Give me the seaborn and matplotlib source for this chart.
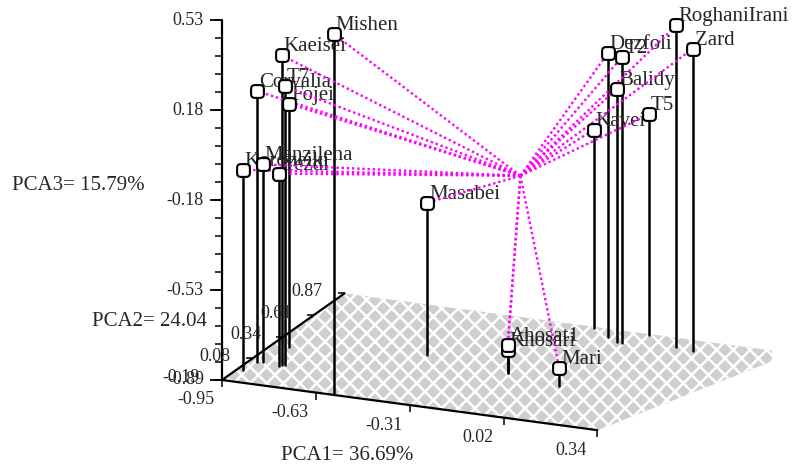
import numpy as np
import pandas as pd
import matplotlib
matplotlib.use("Agg")
import matplotlib.pyplot as plt
import seaborn as sns
from matplotlib.patches import FancyBboxPatch
from mpl_toolkits.mplot3d import proj3d
from mpl_toolkits.mplot3d.art3d import Poly3DCollection

sns.set_theme(style="white")
plt.rcParams['font.family'] = ['Liberation Serif', 'DejaVu Serif']
plt.rcParams['hatch.color'] = 'white'
plt.rcParams['hatch.linewidth'] = 1.8

# ------------------------------------------------------------
# data
# ------------------------------------------------------------
cultivars = ['Mishen', 'Kaeisei', 'T7', 'Corvalia', 'Fojei', 'Koroneiki',
             'Manzilena', 'Yezdi', 'Masabei', 'Ahosat1', 'Khosari', 'Mari',
             'Kavei', 'Dezfoli', 'T2', 'Balidy', 'T5', 'RoghaniIrani', 'Zard']
pca1 = [-0.57, -0.84, -0.83, -0.92, -0.89, -0.93,
        -0.905, -0.84, -0.46, -0.155, -0.155, 0.05,
        -0.09, -0.01, 0.056, 0.038, 0.10, 0.23, 0.29]
pca2 = [-0.18, 0.05, 0.05, 0.04, 0.24, -0.06,
        0.05, 0.03, 0.35, 0.28, 0.28, 0.21,
        0.86, 0.78, 0.74, 0.74, 0.86, 0.77, 0.76]
pca3 = [0.53, 0.33, 0.21, 0.18, 0.07, -0.10,
        -0.11, -0.13, -0.29, -0.78, -0.80, -0.82,
        -0.11, 0.23, 0.24, 0.11, -0.02, 0.38, 0.30]

x_tick_labels = ['-0.95', '-0.63', '-0.31', '0.02', '0.34']
y_tick_labels = ['-0.19', '0.08', '0.34', '0.61', '0.87']
z_tick_labels = ['-0.89', '-0.53', '-0.18', '0.18', '0.53']

x_title = 'PCA1= 36.69%'
y_title = 'PCA2= 24.04'
z_title = 'PCA3= 15.79%'

df = pd.DataFrame({'cultivar': cultivars, 'pca1': pca1, 'pca2': pca2, 'pca3': pca3})

x_lo, x_hi = float(x_tick_labels[0]), float(x_tick_labels[-1])
y_lo, y_hi = float(y_tick_labels[0]), float(y_tick_labels[-1])
z_lo, z_hi = float(z_tick_labels[0]), float(z_tick_labels[-1])

# the floor in the original widens towards the back, its far right corner
# reaches further out than the front one
floor_back_x = 0.59

W, H = 798, 469
fig = plt.figure(figsize=(W / 100, H / 100), dpi=100)
ax = fig.add_axes([0, 0, 1, 1], projection='3d', proj_type='ortho')
ax.view_init(elev=17.9, azim=-66.5)
ax.set_box_aspect((409, 307, 378))
ax.set_xlim(x_lo, x_hi)
ax.set_ylim(y_lo, y_hi)
ax.set_zlim(z_lo, z_hi)
ax.set_axis_off()
ax.computed_zorder = False

# floor plane with white cross hatch
floor = [[(x_lo, y_lo, z_lo), (x_hi, y_lo, z_lo), (floor_back_x, y_hi, z_lo), (x_lo, y_hi, z_lo)]]
ax.add_collection3d(Poly3DCollection(floor, facecolor='#cfcfcf', edgecolor='white',
                                     hatch='xx', linewidth=0, zorder=1))

# axis lines
ax.plot([x_lo, x_hi], [y_lo, y_lo], [z_lo, z_lo], color='black', lw=1.6, zorder=2)
ax.plot([x_lo, x_lo], [y_lo, y_hi], [z_lo, z_lo], color='black', lw=1.6, zorder=2)
ax.plot([x_lo, x_lo], [y_lo, y_lo], [z_lo, z_hi], color='black', lw=1.6, zorder=2)

xt = np.linspace(x_lo, x_hi, len(x_tick_labels))
yt = np.linspace(y_lo, y_hi, len(y_tick_labels))
zt = np.linspace(z_lo, z_hi, len(z_tick_labels))
zminor = np.linspace(z_lo, z_hi, 5 * (len(zt) - 1) + 1)

ax.plot(np.full(len(zt), x_lo), np.full(len(zt), y_lo), zt, ls='none',
        marker=0, ms=9, mew=1.3, color='black', zorder=2)
ax.plot(np.full(len(zminor), x_lo), np.full(len(zminor), y_lo), zminor, ls='none',
        marker=0, ms=5, mew=1.1, color='black', zorder=2)
ax.plot(xt, np.full(len(xt), y_lo), np.full(len(xt), z_lo), ls='none',
        marker=3, ms=5, mew=1.1, color='black', zorder=2)
ax.plot(np.full(len(yt), x_lo), yt, np.full(len(yt), z_lo), ls='none',
        marker=0, ms=5, mew=1.1, color='black', zorder=2)

# stems, lines to centroid, markers
for r in df.itertuples():
    ax.plot([r.pca1, r.pca1], [r.pca2, r.pca2], [z_lo, r.pca3], color='black', lw=1.8, zorder=3)
for r in df.itertuples():
    ax.plot([0, r.pca1], [0, r.pca2], [0, r.pca3], color='#ff00ff', lw=1.7,
            ls=(0, (1, 1.2)), zorder=4)

box = FancyBboxPatch((-0.5, -0.5), 1, 1, boxstyle='round,pad=0,rounding_size=0.3')
rounded_square = box.get_path()
ax.scatter(df['pca1'], df['pca2'], df['pca3'], marker=rounded_square, s=85,
           facecolor='white', edgecolor='black', linewidth=1.5, depthshade=False, zorder=5)

# axis titles
fig.text(78 / W, 1 - 185 / H, z_title, ha='center', va='center', fontsize=15)
fig.text(150 / W, 1 - 321 / H, y_title, ha='center', va='center', fontsize=15)
fig.text(347 / W, 1 - 455 / H, x_title, ha='center', va='center', fontsize=15)

# place the 3-D box so that the front corner and the top of the vertical axis
# sit where they do in the reference
fig.canvas.draw()


def proj2d(x, y, z):
    xs, ys, _ = proj3d.proj_transform(np.atleast_1d(x), np.atleast_1d(y),
                                      np.atleast_1d(z), ax.get_proj())
    return xs, ys


def to_px(x, y, z):
    xs, ys = proj2d(x, y, z)
    return ax.transData.transform((xs[0], ys[0]))


p0 = to_px(x_lo, y_lo, z_lo)
pt = to_px(x_lo, y_lo, z_hi)
scale = (380 - 20) / (pt[1] - p0[1])
bb = ax.bbox
cx, cy = (bb.x0 + bb.x1) / 2, (bb.y0 + bb.y1) / 2
size = bb.width * scale
ncx = 222 - scale * (p0[0] - cx)
ncy = (H - 380) - scale * (p0[1] - cy)
ax.set_position([(ncx - size / 2) / W, (ncy - size / 2) / H, size / W, size / H])
fig.canvas.draw()


def label(x, y, z, s, dx, dy, **kw):
    xs, ys = proj2d(x, y, z)
    ax.annotate(s, (xs[0], ys[0]), xycoords='data', xytext=(dx, dy),
                textcoords='offset pixels', annotation_clip=False, **kw)


# tick labels
for v, lab in zip(zt, z_tick_labels):
    label(x_lo, y_lo, v, lab, -18, 0, ha='right', va='center', fontsize=13)
for v, lab in zip(xt, x_tick_labels):
    label(v, y_lo, z_lo, lab, -26, -20, ha='center', va='center', fontsize=13)
for v, lab in zip(yt, y_tick_labels):
    label(x_lo, v, z_lo, lab, -22, 2, ha='right', va='center', fontsize=13)

# point names
for r in df.itertuples():
    label(r.pca1, r.pca2, r.pca3, r.cultivar, 2, 4, ha='left', va='baseline', fontsize=15)

fig.savefig('out.png', dpi=100, facecolor='white')
